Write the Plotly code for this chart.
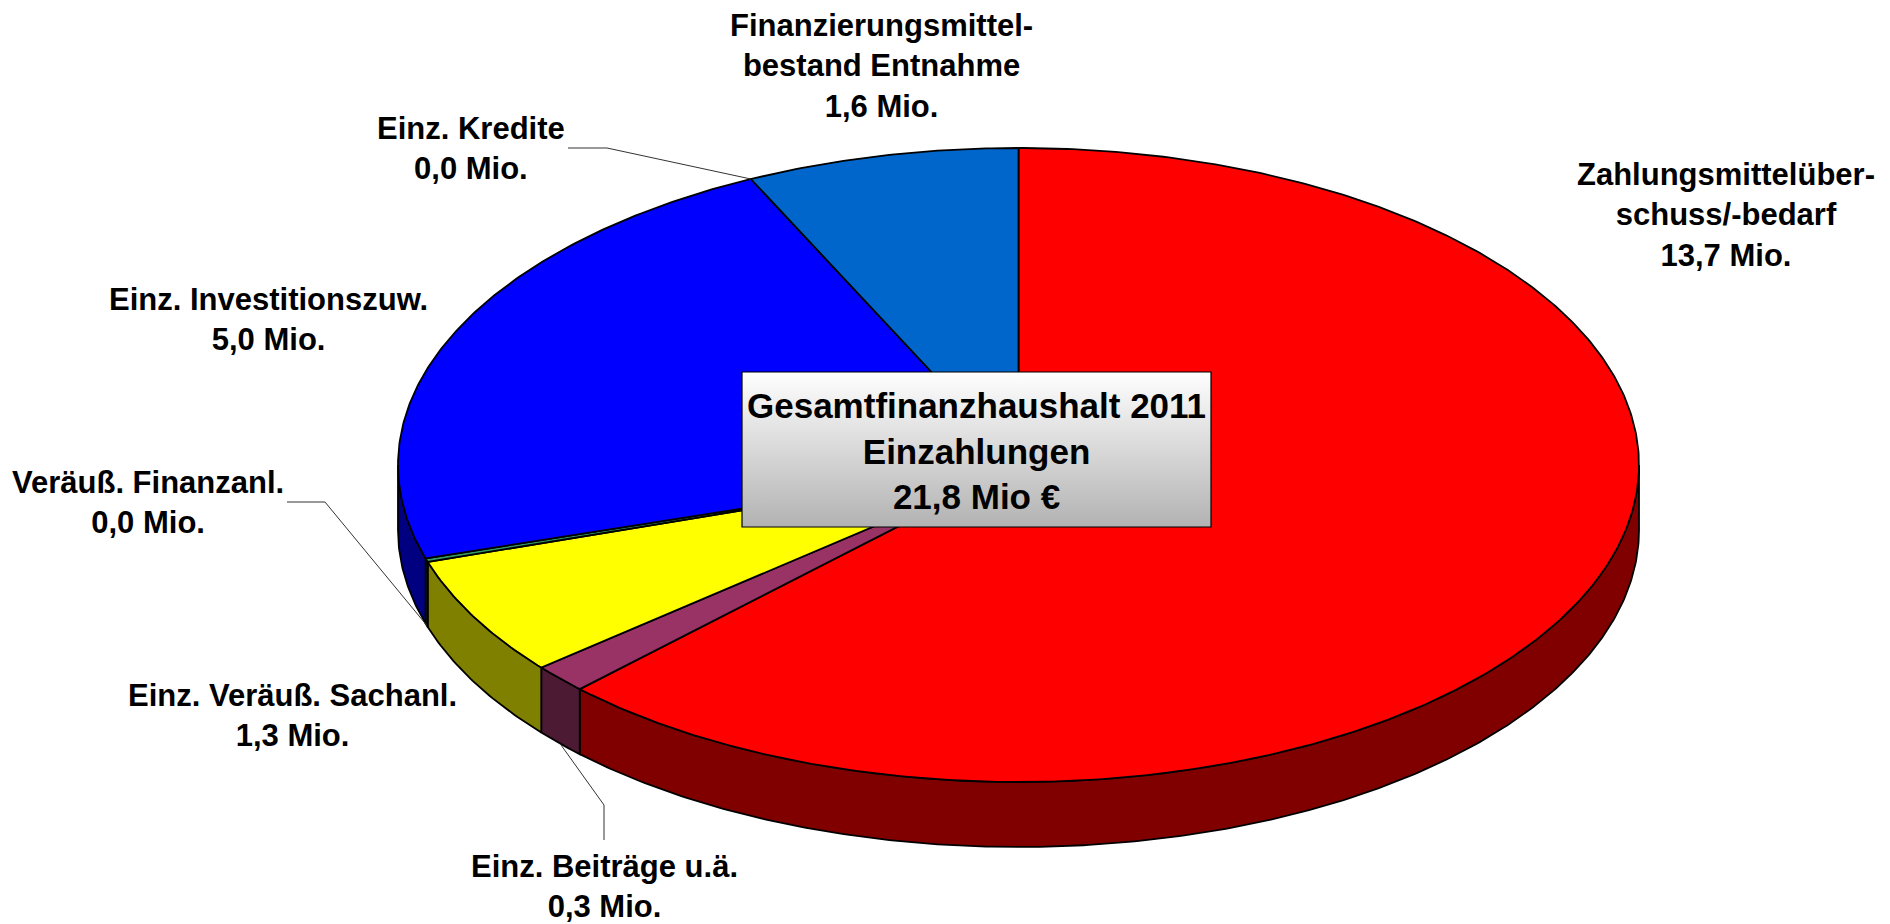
import numpy as np
import plotly.graph_objects as go

# ---------------- data ----------------
categories = [
    "Zahlungsmittelüber-<br>schuss/-bedarf",
    "Einz. Beiträge u.ä.",
    "Einz. Veräuß. Sachanl.",
    "Veräuß. Finanzanl.",
    "Einz. Investitionszuw.",
    "Einz. Kredite",
    "Finanzierungsmittel-<br>bestand Entnahme",
]
values = [13.65, 0.32, 1.33, 0.04, 4.95, 0.0, 1.55]   # Mio. €
value_labels = ["13,7 Mio.", "0,3 Mio.", "1,3 Mio.", "0,0 Mio.", "5,0 Mio.", "0,0 Mio.", "1,6 Mio."]
title_lines = ["Gesamtfinanzhaushalt 2011", "Einzahlungen", "21,8 Mio €"]

top_colors = ["#FF0000", "#993366", "#FFFF00", "#339966", "#0000FF", "#33CCCC", "#0066CC"]
side_colors = ["#800000", "#4D1A33", "#808000", "#1A4D33", "#000080", "#1A6666", "#003366"]

# ---------------- geometry (style) ----------------
CX, CY, RX, RY, DEPTH = 1018.5, 465.0, 620.5, 317.0, 65.0
FONT = "Liberation Sans, Arial, sans-serif"
FS = 31
FS_TITLE = 35
OFF = 8  # compensate default page body margin

# label anchor positions (centre of text block)
label_pos = [(1726, 215), (604, 886), (292, 715), (148, 502), (268, 319), (471, 148), (881, 66)]


def pt(theta, dy=0.0):
    t = np.radians(theta)
    return CX + RX * np.sin(t), CY - RY * np.cos(t) + dy


def arc(a, b, dy=0.0, step=0.5):
    n = max(2, int(abs(b - a) / step) + 1)
    th = np.linspace(a, b, n)
    x, y = pt(th, dy)
    return list(x), list(y)


total = sum(values)
cum = np.concatenate([[0], np.cumsum(values)]) / total * 360.0

fig = go.Figure()

# side walls (visible front part, 90..270 degrees clockwise from top)
for i, v in enumerate(values):
    a, b = max(cum[i], 90.0), min(cum[i + 1], 270.0)
    if b <= a:
        continue
    xt, yt = arc(a, b)
    xb, yb = arc(b, a, DEPTH)
    fig.add_trace(go.Scatter(
        x=xt + xb + [xt[0]], y=yt + yb + [yt[0]], mode="lines", fill="toself",
        fillcolor=side_colors[i], line=dict(color="black", width=1.8), hoverinfo="skip"))

# top face slices
for i, v in enumerate(values):
    if v <= 0:
        continue
    xa, ya = arc(cum[i], cum[i + 1])
    fig.add_trace(go.Scatter(
        x=[CX] + xa + [CX], y=[CY] + ya + [CY], mode="lines", fill="toself",
        fillcolor=top_colors[i], line=dict(color="black", width=1.8), hoverinfo="skip"))

# centre box with vertical gradient
bx0, bx1, by0, by1 = 742, 1211, 372, 527
fig.add_trace(go.Scatter(
    x=[bx0, bx1, bx1, bx0, bx0], y=[by0, by0, by1, by1, by0], mode="lines", fill="toself",
    fillgradient=dict(type="vertical", start=by0, stop=by1,
                      colorscale=[[0, "#FFFFFF"], [1, "#B2B2B2"]]),
    line=dict(color="black", width=1.2), hoverinfo="skip"))

annotations = []
annotations.append(dict(
    x=(bx0 + bx1) / 2, y=(by0 + by1) / 2 + 1, xref="x", yref="y", showarrow=False,
    text="<br>".join("<b>%s</b>" % s for s in title_lines), align="center",
    font=dict(family=FONT, size=FS_TITLE, color="black")))

for i, (lx, ly) in enumerate(label_pos):
    annotations.append(dict(
        x=lx, y=ly, xref="x", yref="y", showarrow=False, align="center",
        text="<b>%s<br>%s</b>" % (categories[i], value_labels[i]),
        font=dict(family=FONT, size=FS, color="black")))

# leader lines for small slices
mid = lambda i: (cum[i] + cum[i + 1]) / 2
leaders = []
kx, ky = pt(cum[5])
leaders.append(([568, 607, kx], [148, 148, ky]))
fx, fy = pt(mid(3), DEPTH)
leaders.append(([287, 325, fx], [502, 502, fy]))
px_, py_ = pt(mid(1), DEPTH)
leaders.append(([604, 604, px_], [840, 805, py_]))
for lx, ly in leaders:
    fig.add_trace(go.Scatter(x=lx, y=ly, mode="lines",
                             line=dict(color="#333333", width=1), hoverinfo="skip"))

fig.update_layout(
    width=1890, height=924, margin=dict(l=0, r=0, t=0, b=0),
    paper_bgcolor="white", plot_bgcolor="white", showlegend=False,
    xaxis=dict(range=[OFF, 1890 + OFF], visible=False, fixedrange=True),
    yaxis=dict(range=[924 + OFF, OFF], visible=False, fixedrange=True),
    annotations=annotations,
)

fig.write_html("out.html")
